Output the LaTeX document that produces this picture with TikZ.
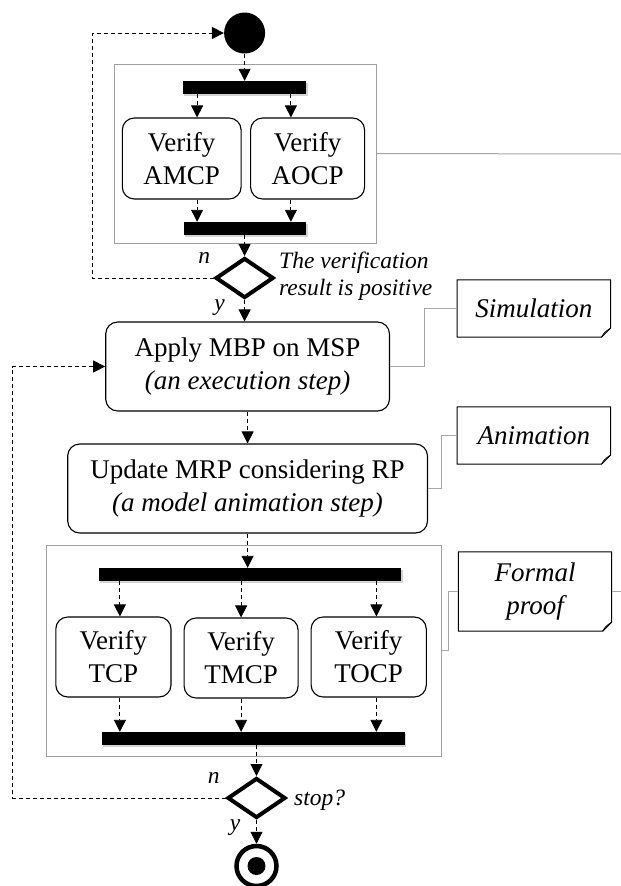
\documentclass[tikz,border=0pt]{standalone}
\usepackage{fontspec}
\setmainfont{Liberation Serif}
\usetikzlibrary{arrows.meta,shapes.geometric,calc,shadows}
\newcommand{\bigtxt}{\fontsize{27}{33}\selectfont}
\newcommand{\lbltxt}{\fontsize{23.5}{27}\selectfont\itshape}
\begin{document}
\begin{tikzpicture}[x=1pt,y=1pt,
  act/.style={draw, line width=1.1pt, rounded corners=12pt, align=center, inner sep=0pt, font=\bigtxt},
  bar/.style={fill=black, draw=none, inner sep=0pt, minimum height=13pt,
     drop shadow={shadow xshift=1.2pt, shadow yshift=-1.5pt, opacity=0.35, fill=gray}},
  frame/.style={draw=gray!75, line width=1pt, inner sep=0pt},
  dec/.style={diamond, draw, line width=4pt, inner sep=0pt, minimum width=58pt, minimum height=40pt},
  notebox/.style={draw=none, inner sep=0pt, minimum width=153pt, align=center, font=\bigtxt\itshape},
  arr/.style={dash pattern=on 4pt off 3pt, line width=0.9pt, -{Triangle[length=12pt,width=12pt]}},
  link/.style={draw=gray!70, line width=1pt},
  lbl/.style={inner sep=0pt, font=\lbltxt}
]
\useasboundingbox (0,0) rectangle (621,-886);

% start node
\node[circle, fill=black, minimum size=41pt, inner sep=0pt] (start) at (244.6,-33) {};

% upper region
\node[frame, minimum width=262.4pt, minimum height=179pt] (ubox) at (245.2,-153.5) {};
\node[bar, minimum width=123.5pt] (fork1) at (244.6,-87.5) {};
\node[act, minimum width=118.8pt, minimum height=81pt] (amcp) at (181.7,-158.5) {Verify\\AMCP};
\node[act, minimum width=114pt, minimum height=81pt] (aocp) at (307.6,-158.5) {Verify\\AOCP};
\node[bar, minimum width=122.3pt] (join1) at (245.2,-228.5) {};
\node[dec] (d1) at (244.6,-278) {};

\draw[arr] (start.south) -- (start.south |- fork1.north);
\draw[arr] (fork1.south -| 197.1,0) -- (amcp.north -| 197.1,0);
\draw[arr] (fork1.south -| 290.9,0) -- (aocp.north -| 290.9,0);
\draw[arr] (amcp.south -| 197.1,0) -- (join1.north -| 197.1,0);
\draw[arr] (aocp.south -| 290.9,0) -- (join1.north -| 290.9,0);
\draw[arr] (d1.north |- join1.south) -- (d1.north);

\node[lbl, anchor=base] (n1) at (204.3,-263) {n};
\node[lbl, anchor=west, align=left] (q1) at (279,-276) {The verification\\result is positive};
\node[lbl, anchor=base] (y1) at (219.7,-310) {y};

\draw[arr] (d1.west) -- ++(-121.5,0) |- (start.west);

\coordinate (edge1) at (621,-154);
\draw[link] (ubox.east) -- (edge1);

% apply / update
\node[act, minimum width=283.8pt, minimum height=89pt] (apply) at (247.6,-366.5) {Apply MBP on MSP\\\itshape (an execution step)};
\node[act, minimum width=359.8pt, minimum height=89pt] (update) at (247.6,-488.5) {Update MRP considering RP\\\itshape (a model animation step)};

\draw[arr] (d1.south) -- (d1.south |- apply.north);
\draw[arr] (apply.south) -- (apply.south |- update.north);

% notes
\node[notebox, minimum height=57pt] (sim) at (533.8,-308.5) {Simulation};
\node[notebox, minimum height=57pt] (anim) at (533.8,-435.5) {Animation};
\node[notebox, minimum height=79pt] (formal) at (535,-591.5) {Formal\\proof};
\foreach \n in {sim,anim,formal}{
  \draw[line width=1pt] (\n.north west) -- (\n.north east) -- ($(\n.south east)+(0,9)$)
     -- ($(\n.south east)+(-9,0)$) -- (\n.south west) -- cycle;
  \draw[line width=0.8pt] ($(\n.south east)+(-9,0)$) .. controls ($(\n.south east)+(-6,5)$) .. ($(\n.south east)+(0,9)$);
}

\draw[link] (apply.east) -- (424,-366.5) |- (sim.west);
\draw[link] (update.east) -- (441.8,-488.5) |- (anim.west);

% lower region
\node[frame, minimum width=395.4pt, minimum height=211pt] (lbox) at (244,-650.5) {};
\node[bar, minimum width=302.8pt] (fork2) at (250,-574.5) {};
\node[act, minimum width=115.2pt, minimum height=80pt] (tcp) at (113.4,-657) {Verify\\TCP};
\node[act, minimum width=114pt, minimum height=80pt] (tmcp) at (241.1,-658) {Verify\\TMCP};
\node[act, minimum width=115.2pt, minimum height=80pt] (tocp) at (368.7,-657) {Verify\\TOCP};
\node[bar, minimum width=302.8pt] (join2) at (253.5,-738.5) {};
\node[dec] (d2) at (256.5,-798) {};
\node[circle, draw, line width=4.5pt, minimum size=40pt, inner sep=0pt] (end) at (256.5,-866) {};
\fill (end.center) circle (9pt);

\draw[arr] (update.south) -- (update.south |- fork2.north);
\draw[arr] (fork2.south -| 119.9,0) -- (tcp.north -| 119.9,0);
\draw[arr] (fork2.south -| 241.1,0) -- (tmcp.north -| 241.1,0);
\draw[arr] (fork2.south -| 376.4,0) -- (tocp.north -| 376.4,0);
\draw[arr] (tcp.south -| 119.9,0) -- (join2.north -| 119.9,0);
\draw[arr] (tmcp.south -| 241.1,0) -- (join2.north -| 241.1,0);
\draw[arr] (tocp.south -| 376.4,0) -- (join2.north -| 376.4,0);
\draw[arr] (d2.north |- join2.south) -- (d2.north);
\draw[arr] (d2.south) -- (end.north);

\node[lbl, anchor=base] (n2) at (213.8,-783) {n};
\node[lbl, anchor=west] (q2) at (294,-800) {stop?};
\node[lbl, anchor=base] (y2) at (235.1,-830) {y};

\draw[arr] (d2.west) -- ++(-213,0) |- (apply.west);

\draw[link] (lbox.east) -- (448.9,-650.5) |- (formal.west);
\coordinate (edge2) at (621,-591.5);
\draw[link] (formal.east) -- (edge2);
\end{tikzpicture}
\end{document}
